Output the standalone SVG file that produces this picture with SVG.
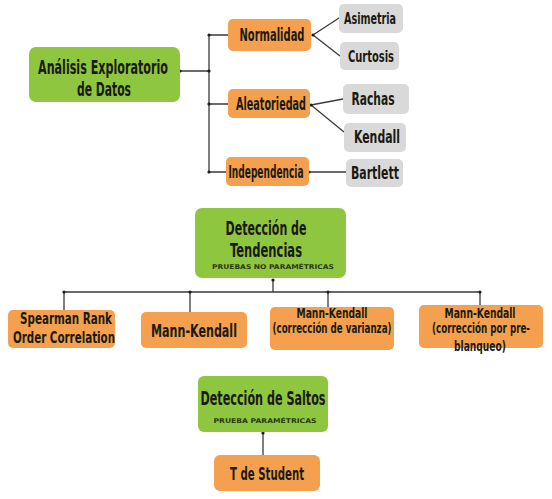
<svg xmlns="http://www.w3.org/2000/svg" width="552" height="499" viewBox="0 0 552 499">
<style>
.g{fill:#8fc640}
.o{fill:#f4a04e}
.y{fill:#d9d9d9}
text{font-family:"DejaVu Sans Condensed","Liberation Sans",sans-serif;font-weight:bold;fill:#1a1a12;text-anchor:middle}
.s{font-family:"DejaVu Sans","Liberation Sans",sans-serif;font-size:6.5px;fill:#2a3a12}
.c{stroke:#3a3a3a;stroke-width:1.3;fill:none}
.d{fill:#1a1a1a}
</style>
<rect width="552" height="499" fill="#fff"/>
<g id="connectors">
<path class="c" d="M180 71H209M209 35V172M209 35H228M209 104H228M209 172H226"/>
<path class="c" d="M313 35L339 18M313 35L340 56M311 105L343 99M311 105L344 132M309 172H346"/>
<path class="c" d="M273 280V292M64 292H480M64 292V310M190 292V312M328 292V307M480 292V305"/>
<path class="c" d="M263 433V455"/>
<circle class="d" cx="180" cy="71" r="1.6"/><circle class="d" cx="209" cy="35" r="1.6"/><circle class="d" cx="209" cy="71" r="1.6"/><circle class="d" cx="209" cy="104" r="1.6"/><circle class="d" cx="209" cy="172" r="1.6"/>
<circle class="d" cx="313" cy="35" r="1.6"/><circle class="d" cx="311" cy="105" r="1.6"/><circle class="d" cx="309" cy="172" r="1.6"/>
<circle class="d" cx="273" cy="280" r="1.6"/><circle class="d" cx="64" cy="292" r="1.6"/><circle class="d" cx="190" cy="292" r="1.6"/><circle class="d" cx="328" cy="292" r="1.6"/><circle class="d" cx="480" cy="292" r="1.6"/>
<circle class="d" cx="263" cy="433" r="1.6"/>
</g>
<g id="n-analisis"><rect class="g" x="29" y="47" width="151" height="55" rx="7"/>
<text x="103" y="74" font-size="20" textLength="130" lengthAdjust="spacingAndGlyphs">Análisis Exploratorio</text>
<text x="104" y="96" font-size="20" textLength="54" lengthAdjust="spacingAndGlyphs">de Datos</text></g>
<g id="n-normalidad"><rect class="o" x="228" y="19" width="83" height="32" rx="5"/>
<text x="272" y="41" font-size="17" textLength="65" lengthAdjust="spacingAndGlyphs">Normalidad</text></g>
<g id="n-aleatoriedad"><rect class="o" x="228" y="89" width="82" height="29" rx="5"/>
<text x="271" y="110" font-size="17" textLength="70" lengthAdjust="spacingAndGlyphs">Aleatoriedad</text></g>
<g id="n-independencia"><rect class="o" x="226" y="157" width="83" height="29" rx="5"/>
<text x="266" y="178" font-size="17" textLength="75" lengthAdjust="spacingAndGlyphs">Independencia</text></g>
<g id="n-asimetria"><rect class="y" x="339" y="4" width="64" height="29" rx="5"/>
<text x="370" y="24" font-size="16" textLength="52" lengthAdjust="spacingAndGlyphs">Asimetria</text></g>
<g id="n-curtosis"><rect class="y" x="340" y="42" width="59" height="28" rx="5"/>
<text x="371" y="62" font-size="16" textLength="46" lengthAdjust="spacingAndGlyphs">Curtosis</text></g>
<g id="n-rachas"><rect class="y" x="343" y="84" width="66" height="30" rx="5"/>
<text x="373" y="105" font-size="18" textLength="43" lengthAdjust="spacingAndGlyphs">Rachas</text></g>
<g id="n-kendall"><rect class="y" x="344" y="123" width="62" height="29" rx="5"/>
<text x="377" y="143" font-size="18" textLength="46" lengthAdjust="spacingAndGlyphs">Kendall</text></g>
<g id="n-bartlett"><rect class="y" x="346" y="159" width="57" height="28" rx="5"/>
<text x="375" y="179" font-size="18" textLength="48" lengthAdjust="spacingAndGlyphs">Bartlett</text></g>
<g id="n-tendencias"><rect class="g" x="195" y="208" width="151" height="70" rx="7"/>
<text x="266" y="235" font-size="20" textLength="81" lengthAdjust="spacingAndGlyphs">Detección de</text>
<text x="266" y="257" font-size="20" textLength="72" lengthAdjust="spacingAndGlyphs">Tendencias</text>
<text class="s" x="273" y="269" textLength="122" lengthAdjust="spacingAndGlyphs">PRUEBAS NO PARAMÉTRICAS</text></g>
<g id="n-spearman"><rect class="o" x="8" y="310" width="107" height="38" rx="5"/>
<text x="66" y="324" font-size="16" textLength="92" lengthAdjust="spacingAndGlyphs">Spearman Rank</text>
<text x="64" y="343" font-size="16" textLength="102" lengthAdjust="spacingAndGlyphs">Order Correlation</text></g>
<g id="n-mk"><rect class="o" x="141" y="312" width="106" height="36" rx="5"/>
<text x="194" y="337" font-size="18" textLength="86" lengthAdjust="spacingAndGlyphs">Mann-Kendall</text></g>
<g id="n-mkvar"><rect class="o" x="270" y="307" width="124" height="43" rx="5"/>
<text x="332" y="318" font-size="14" textLength="71" lengthAdjust="spacingAndGlyphs">Mann-Kendall</text>
<text x="332" y="333" font-size="14" textLength="119" lengthAdjust="spacingAndGlyphs">(corrección de varianza)</text></g>
<g id="n-mkpre"><rect class="o" x="419" y="305" width="124" height="43" rx="5"/>
<text x="480" y="318" font-size="14" textLength="71" lengthAdjust="spacingAndGlyphs">Mann-Kendall</text>
<text x="481" y="333" font-size="14" textLength="98" lengthAdjust="spacingAndGlyphs">(corrección por pre-</text>
<text x="480" y="351" font-size="14" textLength="52" lengthAdjust="spacingAndGlyphs">blanqueo)</text></g>
<g id="n-saltos"><rect class="g" x="198" y="376" width="130" height="56" rx="6"/>
<text x="263" y="405" font-size="19" textLength="125" lengthAdjust="spacingAndGlyphs">Detección de Saltos</text>
<text class="s" x="265" y="423" textLength="103" lengthAdjust="spacingAndGlyphs">PRUEBA PARAMÉTRICAS</text></g>
<g id="n-tstudent"><rect class="o" x="214" y="455" width="106" height="36" rx="6"/>
<text x="267" y="480" font-size="18" textLength="74" lengthAdjust="spacingAndGlyphs">T de Student</text></g>
</svg>
